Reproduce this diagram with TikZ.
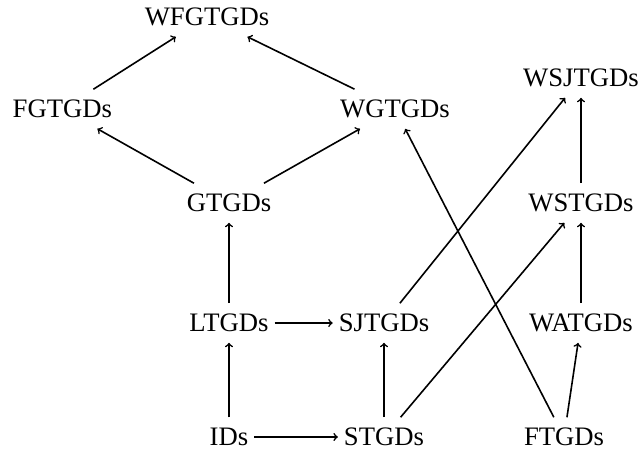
\documentclass[tikz,border=0pt]{standalone}
\usepackage{fontspec}
\setmainfont{Liberation Serif}
\usepackage{tikz}
\usetikzlibrary{arrows,positioning}

\begin{document}
\begin{tikzpicture}[->,line width=1.2pt,on grid,font=\fontsize{20}{24}\selectfont]
\tikzstyle{cls} = [inner xsep=4pt,inner ysep=7.5pt]
\useasboundingbox (-171.75pt,-15pt) rectangle (309pt,327.75pt);
    \node[cls] (ids) at (0,0) {IDs};
    \node[cls] (stgds) [right =116.25pt of ids] {STGDs};
    \node[cls] (ftgds) [right =135pt of stgds] {FTGDs};
    \node[cls] (ltgds) [above =85.5pt of ids] {LTGDs};
    \node[cls] (sjtgds) [above =85.5pt of stgds] {SJTGDs};
    \node[cls] (gtgds) [above =90pt of ltgds] {GTGDs};
    \node[cls] (fgtgds) [above left =70.5pt and 125pt of gtgds] {FGTGDs};
    \node[cls] (wgtgds) [above right =70.5pt and 124.5pt of gtgds] {WGTGDs};
    \node[cls] (wfgtgds) [above left =139.5pt and 16.5pt of gtgds] {WFGTGDs};
    \node[cls] (watgds) [above right =85.5pt and 12.75pt of ftgds] {WATGDs};
    \node[cls] (wstgds) [above =90pt of watgds] {WSTGDs};
    \node[cls] (wsjtgds) [above =93.75pt of wstgds] {WSJTGDs};

    \tikzset{imp/.style={->}}
    % left lattice
    \draw (ids) edge [imp] (ltgds);
    \draw (ids) edge [imp] (stgds);
    \draw (ltgds) edge [imp] (gtgds);
    \draw (ltgds) edge [imp] (sjtgds);
    \draw (stgds) edge [imp] (sjtgds);
    \draw (gtgds) edge [imp] (fgtgds);
    \draw (gtgds) edge [imp] (wgtgds);
    \draw (fgtgds) edge [imp] (wfgtgds);
    \draw (wgtgds) edge [imp] (wfgtgds);
    % right column and crossings
    \draw (ftgds) edge [imp] (watgds);
    \draw (ftgds) edge [imp] (wgtgds);
    \draw (watgds) edge [imp] (wstgds);
    \draw (wstgds) edge [imp] (wsjtgds);
    \draw (stgds) edge [imp] (wstgds);
    \draw (sjtgds) edge [imp] (wsjtgds);
\end{tikzpicture}
\end{document}
